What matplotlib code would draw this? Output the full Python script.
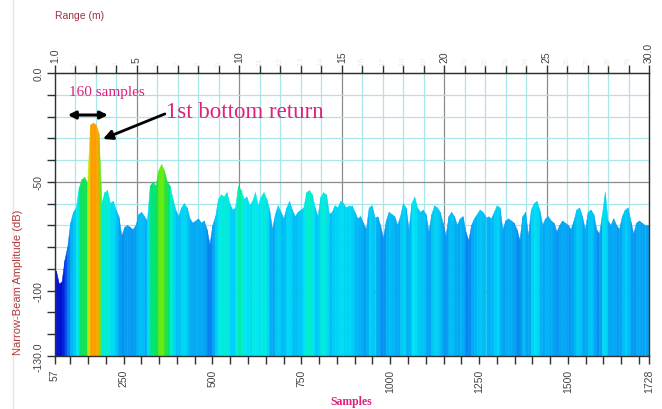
import numpy as np
import matplotlib
matplotlib.use("Agg")
import matplotlib.pyplot as plt
from matplotlib.colors import LinearSegmentedColormap, Normalize
from matplotlib.collections import PolyCollection
from matplotlib.ticker import FixedLocator, MultipleLocator

# amplitude (dB) per 8-sample bin, starting at sample 57
first_sample = 57
bin_width = 8
amp_db = [
    -91, -97, -96, -86, -80, -69, -64, -62, -53, -49,
    -48, -51, -24, -23, -24, -28, -60, -55, -54, -60,
    -59, -63, -66, -75, -71, -70, -71, -72, -70, -65,
    -64, -66, -68, -52, -50, -52, -45, -42, -45, -50,
    -52, -58, -63, -66, -62, -60, -62, -67, -69, -68,
    -67, -69, -68, -72, -79, -70, -66, -58, -56, -57,
    -55, -60, -63, -62, -52, -54, -58, -57, -61, -59,
    -55, -61, -57, -55, -58, -63, -72, -65, -61, -64,
    -67, -62, -59, -63, -66, -64, -63, -62, -55, -54,
    -56, -62, -66, -57, -55, -56, -65, -64, -61, -62,
    -59, -60, -62, -61, -61, -64, -67, -66, -69, -72,
    -62, -61, -66, -66, -70, -76, -68, -64, -65, -66,
    -70, -66, -60, -62, -72, -60, -57, -62, -64, -63,
    -65, -73, -65, -61, -62, -64, -69, -75, -66, -64,
    -66, -70, -67, -66, -73, -77, -70, -67, -65, -63,
    -64, -66, -66, -67, -64, -61, -62, -72, -68, -67,
    -68, -69, -72, -77, -66, -64, -75, -63, -60, -59,
    -63, -70, -67, -66, -68, -69, -73, -70, -68, -69,
    -70, -72, -68, -63, -62, -66, -72, -64, -63, -65,
    -72, -74, -65, -55, -68, -70, -67, -70, -72, -66,
    -63, -62, -68, -74, -69, -68, -69, -70, -70,
]

sample_ticks = [57, 250, 500, 750, 1000, 1250, 1500, 1728]
range_ticks = [1, 5, 10, 15, 20, 25, 30]
range_labels = ["1.0", "5", "10", "15", "20", "25", "30.0"]
db_ticks = [0, -50, -100, -130]
db_labels = ["0.0", "-50", "-100", "-130.0"]

s_min, s_max = 57, 1728
r_min, r_max = 1.0, 30.0
db_floor = -130


def s2m(s):
    return r_min + (np.asarray(s) - s_min) * (r_max - r_min) / (s_max - s_min)


def m2s(m):
    return s_min + (np.asarray(m) - r_min) * (s_max - s_min) / (r_max - r_min)


cmap = LinearSegmentedColormap.from_list("echo", [
    (0.000, "#0000c0"),
    (0.125, "#0022e2"),
    (0.250, "#0068f2"),
    (0.350, "#0896f2"),
    (0.425, "#00b6f6"),
    (0.475, "#00cff6"),
    (0.525, "#00e8f2"),
    (0.575, "#00f0c0"),
    (0.610, "#00e47a"),
    (0.650, "#1ee040"),
    (0.725, "#80ee00"),
    (0.812, "#e8dc00"),
    (0.900, "#ffae00"),
    (1.000, "#ff9000"),
])
norm = Normalize(-100, -20)

fig = plt.figure(figsize=(6.62, 4.10), dpi=100)
ax = fig.add_axes([55 / 662, 1 - 357 / 410, 594 / 662, 283 / 410])

# echo envelope as coloured vertical strips between bin centres
amp = np.array(amp_db, dtype=float)
xs = first_sample + bin_width * (np.arange(len(amp)) + 0.5)
xs = np.concatenate([[s_min], xs, [s_max]])
ys = np.concatenate([[amp[0]], amp, [amp[-1]]])
polys, cols = [], []
for i in range(len(xs) - 1):
    polys.append([(xs[i], db_floor), (xs[i], ys[i]), (xs[i + 1], ys[i + 1]),
                  (xs[i + 1], db_floor)])
    cols.append(cmap(norm((ys[i] + ys[i + 1]) / 2)))
ax.add_collection(PolyCollection(polys, facecolors=cols, edgecolors=cols,
                                 linewidths=0.4, zorder=2))

ax.set_xlim(s_min, s_max)
ax.set_ylim(db_floor, 0)

# grid: cyan every metre / 10 dB, grey at majors
for m in range(1, 31):
    c = "#8c8c8c" if m % 5 == 0 else "#a8e6ea"
    ax.axvline(m2s(m), color=c, lw=0.9, zorder=1)
for d in range(-120, 0, 10):
    c = "#8c8c8c" if d % 50 == 0 else "#a8e6ea"
    ax.axhline(d, color=c, lw=0.9, zorder=1)

tick_col = "#303030"
lab_col = "#444444"
for sp in ax.spines.values():
    sp.set_color(tick_col)
    sp.set_linewidth(1.0)

ax.xaxis.set_major_locator(FixedLocator(sample_ticks))
ax.xaxis.set_minor_locator(FixedLocator(list(range(100, 1728, 50))))
ax.set_xticklabels([str(t) for t in sample_ticks], rotation=90,
                   fontsize=7.5, color=lab_col, family="Liberation Sans")
ax.yaxis.set_major_locator(FixedLocator(db_ticks))
ax.yaxis.set_minor_locator(MultipleLocator(10))
ax.set_yticklabels(db_labels, rotation=90, va="center",
                   fontsize=7.5, color=lab_col, family="Liberation Sans")
ax.tick_params(which="both", direction="out", length=6, width=1, color=tick_col)
ax.tick_params(axis="x", pad=3)
ax.tick_params(axis="y", pad=2)

top = ax.secondary_xaxis("top", functions=(s2m, m2s))
top.xaxis.set_major_locator(FixedLocator(range_ticks))
top.xaxis.set_minor_locator(MultipleLocator(1))
top.set_xticklabels(range_labels, rotation=90, fontsize=7.5, color=lab_col,
                    family="Liberation Sans")
top.tick_params(which="both", direction="out", length=6, width=1, color=tick_col, pad=2)
top.spines["top"].set_color(tick_col)

# faint minor labels on the range axis
for m in range(2, 30):
    if m % 5:
        ax.text(m2s(m), 3.5, str(m), rotation=90, ha="center", va="bottom",
                fontsize=6, color="#ececec", family="Liberation Sans", clip_on=False)

fig.text(55 / 662, 1 - 16 / 410, "Range (m)", fontsize=7.5, color="#a0303c",
         family="Liberation Sans", va="center", ha="left")
fig.text(18 / 662, 1 - 282 / 410, "Narrow-Beam Amplitude (dB)", rotation=90,
         fontsize=8, color="#b03a3a", family="Liberation Sans", ha="center", va="center")
fig.text(351 / 662, 1 - 402 / 410, "Samples", fontsize=8.5, color="#e0207a",
         family="Liberation Serif", weight="bold", ha="center", va="center")

# annotations
pink = "#e0207a"
ax.text(203, -8.7, "160 samples", fontsize=11, color=pink, family="Liberation Serif",
        ha="center", va="center", zorder=5)
ax.annotate("", xy=(93, -19.3), xytext=(206, -19.3),
            arrowprops=dict(arrowstyle="<|-|>", color="black", lw=2.2, mutation_scale=11,
                            shrinkA=0, shrinkB=0), zorder=5)
ax.text(369, -17.9, "1st bottom return", fontsize=16.5, color=pink,
        family="Liberation Serif", ha="left", va="center", zorder=5)
ax.annotate("", xy=(192, -30.3), xytext=(366, -18.8),
            arrowprops=dict(arrowstyle="-|>", color="black", lw=2.0, mutation_scale=14,
                            shrinkA=0, shrinkB=0), zorder=5)

fig.add_artist(plt.Line2D([13 / 662, 13 / 662], [0, 1], color="#e6e6e6", lw=1))

fig.savefig("out.png", dpi=100)
